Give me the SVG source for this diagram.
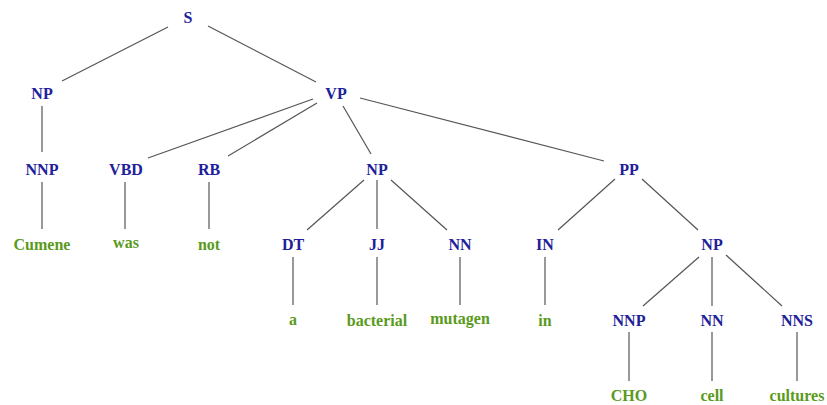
<svg xmlns="http://www.w3.org/2000/svg" width="827" height="405" viewBox="0 0 827 405">
<style>
text{font-family:"Liberation Serif","Times New Roman",serif;font-weight:bold;font-size:16px;text-anchor:middle}
.c{fill:#20209a}
.w{fill:#5a9a1c}
#edges line{stroke:#555;stroke-width:1.2}
</style>
<rect width="827" height="405" fill="#fff"/>
<g id="edges">
<line x1="168" y1="27" x2="62" y2="81"/>
<line x1="208" y1="26" x2="316" y2="82"/>
<line x1="42" y1="106" x2="42" y2="152"/>
<line x1="313" y1="99" x2="148" y2="158"/>
<line x1="317" y1="103" x2="228" y2="156"/>
<line x1="343" y1="106" x2="371" y2="154"/>
<line x1="360" y1="98" x2="604" y2="161"/>
<line x1="42" y1="182" x2="42" y2="229"/>
<line x1="125" y1="182" x2="125" y2="229"/>
<line x1="209" y1="182" x2="209" y2="229"/>
<line x1="364" y1="180" x2="307" y2="230"/>
<line x1="377" y1="180" x2="377" y2="229"/>
<line x1="391" y1="180" x2="447" y2="230"/>
<line x1="615" y1="179" x2="558" y2="230"/>
<line x1="642" y1="179" x2="698" y2="230"/>
<line x1="293" y1="257" x2="293" y2="305"/>
<line x1="377" y1="257" x2="377" y2="305"/>
<line x1="460" y1="257" x2="460" y2="305"/>
<line x1="545" y1="257" x2="545" y2="305"/>
<line x1="699" y1="257" x2="643" y2="306"/>
<line x1="712" y1="257" x2="712" y2="306"/>
<line x1="726" y1="255" x2="782" y2="306"/>
<line x1="629" y1="332" x2="629" y2="381"/>
<line x1="712" y1="332" x2="712" y2="381"/>
<line x1="797" y1="332" x2="797" y2="381"/>
</g>
<g id="n-S"><text class="c" x="188" y="23">S</text></g>
<g id="n-NP1"><text class="c" x="42" y="99">NP</text></g>
<g id="n-VP"><text class="c" x="336" y="99">VP</text></g>
<g id="n-NNP1"><text class="c" x="42" y="175">NNP</text></g>
<g id="n-VBD"><text class="c" x="126" y="175">VBD</text></g>
<g id="n-RB"><text class="c" x="209" y="175">RB</text></g>
<g id="n-NP2"><text class="c" x="377" y="175">NP</text></g>
<g id="n-PP"><text class="c" x="629" y="175">PP</text></g>
<g id="w-Cumene"><text class="w" x="42" y="250">Cumene</text></g>
<g id="w-was"><text class="w" x="126" y="248">was</text></g>
<g id="w-not"><text class="w" x="209" y="250">not</text></g>
<g id="n-DT"><text class="c" x="293" y="250">DT</text></g>
<g id="n-JJ"><text class="c" x="377" y="250">JJ</text></g>
<g id="n-NN1"><text class="c" x="460" y="250">NN</text></g>
<g id="n-IN"><text class="c" x="545" y="250">IN</text></g>
<g id="n-NP3"><text class="c" x="712" y="250">NP</text></g>
<g id="w-a"><text class="w" x="293" y="325">a</text></g>
<g id="w-bacterial"><text class="w" x="377" y="326">bacterial</text></g>
<g id="w-mutagen"><text class="w" x="460" y="324">mutagen</text></g>
<g id="w-in"><text class="w" x="545" y="326">in</text></g>
<g id="n-NNP2"><text class="c" x="629" y="326">NNP</text></g>
<g id="n-NN2"><text class="c" x="712" y="326">NN</text></g>
<g id="n-NNS"><text class="c" x="797" y="326">NNS</text></g>
<g id="w-CHO"><text class="w" x="629" y="401">CHO</text></g>
<g id="w-cell"><text class="w" x="712" y="401">cell</text></g>
<g id="w-cultures"><text class="w" x="797" y="401">cultures</text></g>
</svg>
